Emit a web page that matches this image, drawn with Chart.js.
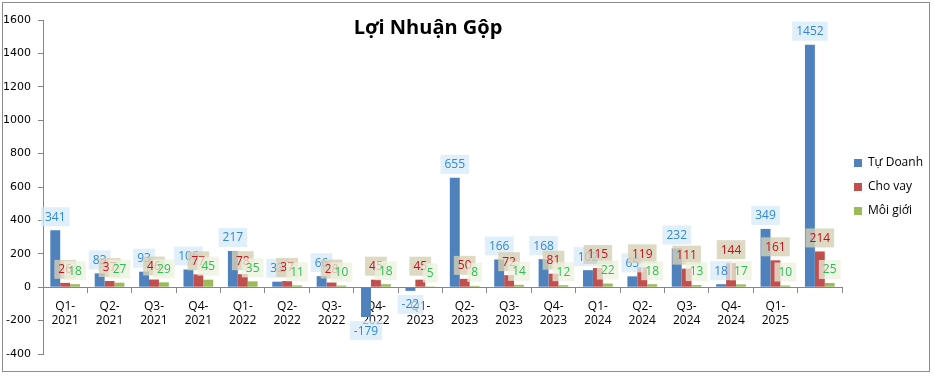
<!DOCTYPE html>
<html>
<head>
<meta charset="utf-8">
<script src="https://cdn.jsdelivr.net/npm/chart.js@4"></script>
<style>
  html, body { margin: 0; padding: 0; background: #fff; }
  #wrap { position: absolute; left: 2px; top: 2px; width: 926px; height: 368px; border: 1px solid #8c8c8c; }
  canvas { display: block; }
</style>
</head>
<body>
<div id="wrap"><canvas id="profitChart" width="926" height="368"></canvas></div>
<script>
// ## LOI NHUAN GOP ##

const quarters = [
  ["Q1-", "2021"], ["Q2-", "2021"], ["Q3-", "2021"], ["Q4-", "2021"],
  ["Q1-", "2022"], ["Q2-", "2022"], ["Q3-", "2022"], ["Q4-", "2022"],
  ["Q1-", "2023"], ["Q2-", "2023"], ["Q3-", "2023"], ["Q4-", "2023"],
  ["Q1-", "2024"], ["Q2-", "2024"], ["Q3-", "2024"], ["Q4-", "2024"],
  ["Q1-", "2025"], "",
];
const tuDoanh = [341, 83, 93, 106, 217, 33, 66, -179, -22, 655, 166, 168, 102, 65, 232, 18, 349, 1452];
const choVay = [26, 37, 46, 77, 78, 37, 28, 45, 45, 50, 72, 81, 115, 119, 111, 144, 161, 214];
const moiGioi = [18, 27, 29, 45, 35, 11, 10, 18, 5, 8, 14, 12, 22, 18, 13, 17, 10, 25];

const yMin = -400;
const yMax = 1600;
const yStep = 200;

const chartTitle = "Lợi Nhuận Gộp";

const axisColor = "#868686";

// value boxes above (or below) each bar
const barLabels = {
  id: "barLabels",
  afterDatasetsDraw(chart) {
    const ctx = chart.ctx;
    ctx.save();
    ctx.font = '12px "Open Sans"';
    ctx.textAlign = "center";
    ctx.textBaseline = "middle";
    chart.data.datasets.forEach((ds, i) => {
      const meta = chart.getDatasetMeta(i);
      meta.data.forEach((bar, j) => {
        const v = ds.data[j];
        const txt = String(v);
        const w = ctx.measureText(txt).width + 8;
        const h = 19;
        const top = v >= 0 ? bar.y - h - 4 : bar.y + 4;
        ctx.fillStyle = ds.labelBox;
        ctx.fillRect(bar.x - w / 2, top, w, h);
        ctx.fillStyle = ds.labelColor;
        ctx.fillText(txt, bar.x, top + h / 2 + 0.5);
      });
    });
    ctx.restore();
  },
};

const titleText = {
  id: "titleText",
  afterDraw(chart) {
    const ctx = chart.ctx;
    ctx.save();
    ctx.font = 'bold 20px "Open Sans"';
    ctx.fillStyle = "#000";
    ctx.textAlign = "center";
    ctx.textBaseline = "middle";
    ctx.fillText(chartTitle, 425, 25);
    ctx.restore();
  },
};

const ctx = document.getElementById("profitChart").getContext("2d");

window.profitChart = new Chart(ctx, {
  type: "bar",
  data: {
    labels: quarters,
    datasets: [
      {
        label: "Tự Doanh",
        data: tuDoanh,
        backgroundColor: "#4F81BD",
        labelBox: "rgba(214, 234, 248, 0.75)",
        labelColor: "#2F88D8",
      },
      {
        label: "Cho vay",
        data: choVay,
        backgroundColor: "#C0504D",
        labelBox: "rgba(214, 208, 180, 0.8)",
        labelColor: "#C8101C",
      },
      {
        label: "Môi giới",
        data: moiGioi,
        backgroundColor: "#9BBB59",
        labelBox: "rgba(236, 241, 222, 0.75)",
        labelColor: "#2DBE58",
      },
    ],
  },
  options: {
    responsive: false,
    animation: false,
    datasets: {
      bar: {
        categoryPercentage: 0.67,
        barPercentage: 1,
      },
    },
    layout: {
      padding: { top: 17, bottom: 17, left: 0, right: -4 },
    },
    scales: {
      x: {
        position: { y: 0 },
        grid: {
          drawOnChartArea: false,
          color: axisColor,
          tickLength: 5,
        },
        border: { color: axisColor },
        ticks: {
          color: "#000",
          padding: 7,
          maxRotation: 0,
          autoSkip: false,
          font: { family: "Open Sans", size: 12 },
        },
      },
      y: {
        min: yMin,
        max: yMax,
        afterFit: (scale) => {
          scale.width = 40;
        },
        ticks: {
          stepSize: yStep,
          color: "#000",
          padding: 7,
          font: { family: "DejaVu Sans", size: 11 },
          callback: (value) => String(value),
        },
        grid: {
          drawOnChartArea: false,
          color: axisColor,
          tickLength: 5,
        },
        border: { color: axisColor },
      },
    },
    plugins: {
      legend: {
        position: "right",
        labels: {
          boxWidth: 8,
          boxHeight: 8,
          padding: 12,
          color: "#000",
          font: { family: "Open Sans", size: 12 },
        },
      },
      tooltip: { enabled: false },
    },
  },
  plugins: [barLabels, titleText],
});
</script>
</body>
</html>
